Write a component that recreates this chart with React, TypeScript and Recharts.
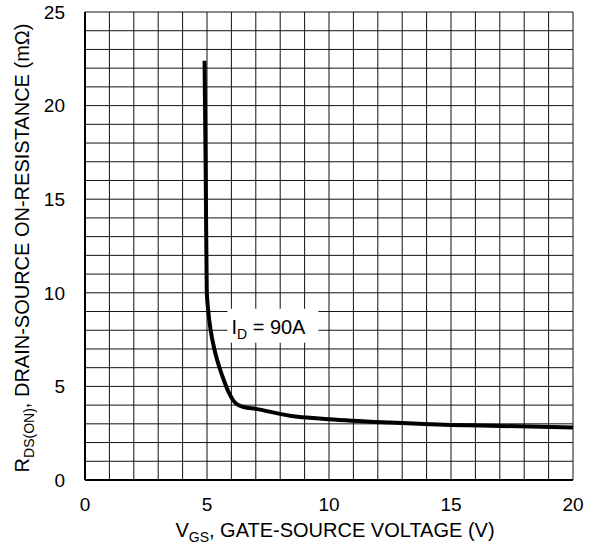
import React from 'react';
import {
  LineChart,
  Line,
  XAxis,
  YAxis,
  CartesianGrid,
  ReferenceDot,
} from 'recharts';

// R_DS(on) vs V_GS at I_D = 90A
const vgsValues = [4.9, 4.95, 4.99, 5.05, 5.15, 5.3, 5.5, 5.7, 5.9, 6.05, 6.2, 6.5, 7.0, 8.4, 10.0, 12.5, 15, 17, 20];
const rdsValues = [22.4, 16, 10.1, 9.05, 8.0, 7.0, 6.05, 5.3, 4.65, 4.3, 4.07, 3.9, 3.8, 3.43, 3.25, 3.07, 2.94, 2.89, 2.8];

// grid every 1 V / 1 mΩ, labels every 5
const xTicks = [0, 1, 2, 3, 4, 5, 6, 7, 8, 9, 10, 11, 12, 13, 14, 15, 16, 17, 18, 19, 20];
const yTicks = [0, 1, 2, 3, 4, 5, 6, 7, 8, 9, 10, 11, 12, 13, 14, 15, 16, 17, 18, 19, 20, 21, 22, 23, 24, 25];
const labelledX = [0, 5, 10, 15, 20];
const labelledY = [0, 5, 10, 15, 20, 25];

const currentLabel = { vgs: 7.68, rds: 8.24, text: '90A' };

const data = vgsValues.map((v, i) => ({ vgs: v, rds: rdsValues[i] }));

const FONT = 'Arial, "Liberation Sans", Helvetica, sans-serif';

const XTitle = (props: any) => {
  const { viewBox } = props;
  const cx = viewBox.x + viewBox.width / 2 + 6;
  return (
    <text x={cx} y={537} textAnchor="middle" fontFamily={FONT} fontSize={20} fill="#000">
      <tspan>V</tspan>
      <tspan fontSize={14} dy={5}>GS</tspan>
      <tspan dy={-5}>, GATE-SOURCE VOLTAGE (V)</tspan>
    </text>
  );
};

const YTitle = () => (
  <text
    x={0}
    y={0}
    transform="translate(29, 248) rotate(-90)"
    textAnchor="middle"
    fontFamily={FONT}
    fontSize={20}
    fill="#000"
  >
    <tspan>R</tspan>
    <tspan fontSize={14} dy={5}>DS(ON)</tspan>
    <tspan dy={-5}>, DRAIN-SOURCE ON-RESISTANCE (mΩ)</tspan>
  </text>
);

const CurrentTag = (props: any) => {
  const { cx, cy } = props;
  return (
    <g>
      <rect x={cx - 45} y={cy - 17} width={91} height={34} fill="#fff" />
      <text x={cx - 41} y={cy + 8} fontFamily={FONT} fontSize={20} fill="#000">
        <tspan>I</tspan>
        <tspan fontSize={14} dy={5}>D</tspan>
        <tspan dy={-5}> = {currentLabel.text}</tspan>
      </text>
    </g>
  );
};

export default function App() {
  return (
    <div style={{ position: 'absolute', left: 0, top: 0, background: '#fff' }}>
      <LineChart
        width={601}
        height={546}
        data={data}
        margin={{ top: 12, right: 28, bottom: 0, left: 0 }}
      >
        <CartesianGrid stroke="#111" strokeWidth={1} />
        <XAxis
          type="number"
          dataKey="vgs"
          domain={[0, 20]}
          ticks={xTicks}
          interval={0}
          height={66}
          tickLine={false}
          tickMargin={12}
          tickFormatter={(v: number) => (labelledX.includes(v) ? String(v) : '')}
          tick={{ fill: '#000', fontSize: 19, fontFamily: FONT }}
          axisLine={{ stroke: '#000', strokeWidth: 2 }}
          label={{ content: XTitle }}
        />
        <YAxis
          type="number"
          domain={[0, 25]}
          ticks={yTicks}
          interval={0}
          width={85}
          tickLine={false}
          tickMargin={14}
          tickFormatter={(v: number) => (labelledY.includes(v) ? String(v) : '')}
          tick={{ fill: '#000', fontSize: 19, fontFamily: FONT }}
          axisLine={{ stroke: '#000', strokeWidth: 2 }}
          label={{ content: YTitle }}
        />
        <Line
          type="monotone"
          dataKey="rds"
          stroke="#000"
          strokeWidth={4}
          dot={false}
          isAnimationActive={false}
        />
        <ReferenceDot
          x={currentLabel.vgs}
          y={currentLabel.rds}
          r={0}
          shape={CurrentTag}
        />
      </LineChart>
    </div>
  );
}
